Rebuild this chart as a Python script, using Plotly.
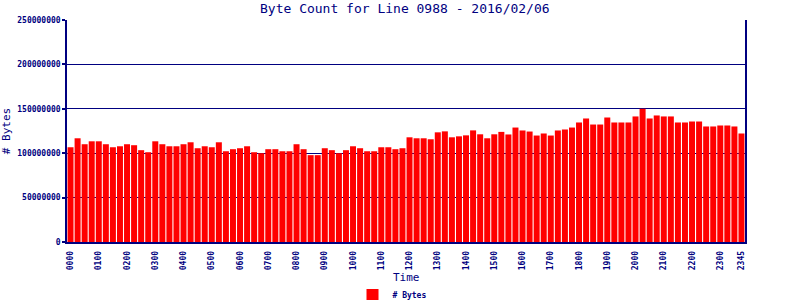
import plotly.graph_objects as go

# Time slots (every 15 minutes)
times = [f"{h:02d}{m:02d}" for h in range(24) for m in (0, 15, 30, 45)]

# Byte counts (millions of bytes)
bytes_m = [
    106.7, 116.8, 110.1, 113.4, 113.4, 110.1, 106.7, 107.8,
    110.1, 109.0, 103.4, 101.1, 113.4, 110.1, 107.8, 107.8,
    110.1, 112.3, 105.6, 107.8, 106.7, 112.3, 102.2, 104.5,
    105.6, 107.8, 101.1, 100.0, 104.5, 104.5, 102.2, 102.2,
    110.1, 104.5, 97.8, 97.8, 105.6, 103.4, 100.0, 103.4,
    107.8, 105.6, 102.2, 102.2, 106.7, 106.7, 104.5, 105.6,
    117.9, 116.8, 116.8, 115.7, 123.5, 124.6, 117.9, 119.0,
    120.1, 125.7, 121.3, 116.8, 121.3, 124.0, 121.1, 128.9,
    125.6, 124.4, 119.9, 122.2, 119.9, 125.6, 126.7, 128.9,
    134.6, 139.1, 132.3, 132.3, 140.2, 134.6, 134.6, 134.6,
    141.4, 150.0, 139.1, 142.5, 141.4, 141.4, 134.6, 134.6,
    135.7, 135.7, 130.1, 130.1, 131.2, 131.2, 130.1, 122.2,
]
byte_values = [round(v * 1e6) for v in bytes_m]

tick_times = [f"{h:02d}00" for h in range(24)] + ["2345"]
y_ticks = [0, 50000000, 100000000, 150000000, 200000000, 250000000]

NAVY = "#000080"
MONO = "DejaVu Sans Mono"

fig = go.Figure()
fig.add_trace(go.Bar(
    x=times, y=byte_values, name="# Bytes",
    marker=dict(color="#FF0000", line=dict(width=0)),
))

fig.update_layout(
    width=800, height=300,
    margin=dict(l=67, r=55, t=20, b=58),
    paper_bgcolor="white", plot_bgcolor="white",
    bargap=0.15,
    title=dict(text="Byte Count for Line 0988 - 2016/02/06",
               font=dict(family=MONO, size=13, color=NAVY),
               x=0.506, xanchor="center", y=0.972, yanchor="middle"),
    showlegend=True,
    legend=dict(orientation="h", x=0.49, xanchor="center",
                xref="container", yref="container", y=0.017, yanchor="middle",
                font=dict(family=MONO, size=8, color=NAVY, weight="bold"),
                itemwidth=30, bgcolor="rgba(0,0,0,0)", tracegroupgap=0),
    xaxis=dict(
        type="category", tickmode="array", tickvals=tick_times, ticktext=tick_times,
        range=[-0.5, len(times) - 0.5], automargin=False,
        tickangle=-90, tickfont=dict(family=MONO, size=8, color=NAVY, weight="bold"),
        showline=True, linecolor=NAVY, linewidth=1.5, mirror=False,
        showgrid=False, ticks="", ticklabelstandoff=4,
    ),
    yaxis=dict(
        range=[0, 250000000], tickmode="array", tickvals=y_ticks, automargin=False,
        ticktext=[str(v) for v in y_ticks],
        tickfont=dict(family=MONO, size=8, color=NAVY, weight="bold"),
        showgrid=True, gridcolor=NAVY, gridwidth=1,
        showline=True, linecolor=NAVY, linewidth=1.5, mirror=True,
        ticks="outside", ticklen=3, tickcolor=NAVY, tickwidth=1.5,
        zeroline=False,
        title=dict(text="# Bytes", font=dict(family=MONO, size=11, color=NAVY), standoff=6),
    ),
    annotations=[dict(text="Time", xref="paper", yref="paper", x=0.5, y=-0.158,
                      xanchor="center", yanchor="middle", showarrow=False,
                      font=dict(family=MONO, size=11, color=NAVY))],
)

fig.write_html("out.html")
